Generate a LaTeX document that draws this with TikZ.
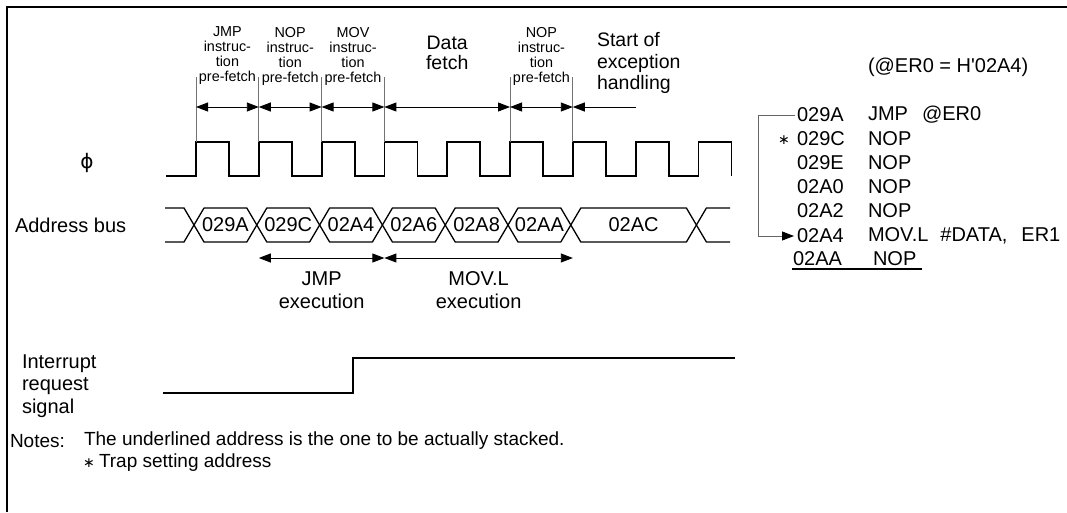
\documentclass[tikz,border=0pt]{standalone}
\usepackage{fontspec}
\setmainfont{Liberation Sans}
\newfontfamily\dejavu{DejaVu Sans}
\usetikzlibrary{arrows.meta}
\begin{document}
\begin{tikzpicture}[x=1pt,y=-1pt,
  every node/.style={inner sep=0pt, outer sep=0pt},
  txt/.style={font=\fontsize{20}{22.5}\selectfont},
  mid/.style={font=\fontsize{19.5}{20.5}\selectfont, align=center},
  sml/.style={font=\fontsize{14.4}{15}\selectfont, align=center},
  clk/.style={line width=1.8pt, line join=miter, line cap=butt},
  bus/.style={line width=1.3pt, line join=round},
  tick/.style={draw=black!55, line width=0.8pt},
  dimarrow/.style={line width=0.9pt, {Triangle[length=12pt,width=9pt]}-{Triangle[length=12pt,width=9pt]}},
  leftarrow/.style={line width=0.9pt, {Triangle[length=12pt,width=9pt]}-},
  bracket/.style={draw=black!60, line width=0.9pt, -{Triangle[length=12pt,width=9pt,color=black]}},
]
\useasboundingbox (0,0) rectangle (1067,512);
% frame
\draw[line width=2.4pt] (7,512) -- (7,7) -- (1067,7);

% ---------- clock ----------
\node[txt] (phi) at (87,163) {\dejavu ϕ};
\draw[clk] (166,176) \foreach \k in {0,...,8} {
  -- ({196+62.8*\k},176) -- ({196+62.8*\k},142) -- ({229+62.8*\k},142) -- ({229+62.8*\k},176) };

% ---------- tick lines and top arrows ----------
\foreach \n/\x in {0/196, 1/258.8, 2/321.6, 3/384.4, 4/510, 5/572.8} {
  \coordinate (tt\n) at (\x,77);
  \coordinate (tb\n) at (\x,142);
  \coordinate (ta\n) at (\x,107);
  \draw[tick] (tt\n) -- (tb\n);
}
\coordinate (taend) at (636,107);
\draw[dimarrow] (ta0) -- (ta1);
\draw[dimarrow] (ta1) -- (ta2);
\draw[dimarrow] (ta2) -- (ta3);
\draw[dimarrow] (ta3) -- (ta4);
\draw[dimarrow] (ta4) -- (ta5);
\draw[leftarrow] (ta5) -- (taend);

\node[sml] (lab1) at (227.4,56) {JMP\\instruc-\\tion\\pre-fetch};
\node[sml] (lab2) at (290.2,56) {NOP\\instruc-\\tion\\pre-fetch};
\node[sml] (lab3) at (353.0,56) {MOV\\instruc-\\tion\\pre-fetch};
\node[mid] (lab4) at (447.2,53) {Data\\fetch};
\node[sml] (lab5) at (541.4,56) {NOP\\instruc-\\tion\\pre-fetch};
\node[font=\fontsize{19.5}{21.5}\selectfont, align=left, anchor=west] (lab6) at (597,63) {Start of\\exception\\handling};

% ---------- address bus ----------
\node[txt, anchor=west] (abus) at (15,225) {Address bus};
\draw[bus] (165,208) -- (184,208) -- (194,225) -- (184,242) -- (165,242);
\foreach \a/\b/\t/\n in {194/256.8/029A/b1, 256.8/319.6/029C/b2, 319.6/382.4/02A4/b3, 382.4/445.2/02A6/b4, 445.2/508/02A8/b5, 508/570.8/02AA/b6, 570.8/696.4/02AC/b7} {
  \draw[bus] (\a,225) -- (\a+10,208) -- (\b-10,208) -- (\b,225) -- (\b-10,242) -- (\a+10,242) -- cycle;
  \node[txt] (\n) at ({(\a+\b)/2},225) {\t};
}
\draw[bus] (730,208) -- (706.4,208) -- (696.4,225) -- (706.4,242) -- (730,242);

% ---------- execution arrows ----------
\coordinate (e0) at (258.8,258);
\coordinate (e1) at (384.4,258);
\coordinate (e2) at (572.8,258);
\draw[dimarrow] (e0) -- (e1);
\draw[dimarrow] (e1) -- (e2);
\node[txt, align=center] (jmpx) at (321.6,290) {JMP\\execution};
\node[txt, align=center] (movx) at (478.6,290) {MOV.L\\execution};

% ---------- interrupt ----------
\node[txt, align=left, anchor=west] (irq) at (22,386) {Interrupt\\request\\signal};
\draw[clk] (163,393) -- (353,393) -- (353,358) -- (735,358);

% ---------- listing ----------
\node[txt, anchor=west] (er0) at (868,67) {(@ER0 = H\textquotesingle02A4)};
\coordinate (bx) at (760,0);
\foreach \n/\y/\a/\m in {r1/115/029A/{JMP\hspace{14pt}@ER0}, r2/139/029C/NOP, r3/163/029E/NOP, r4/187/02A0/NOP, r5/211/02A2/NOP, r6/236/02A4/{MOV.L\hspace{12pt}\#DATA,\hspace{14pt}ER1}} {
  \node[txt, anchor=west] (\n a) at (797,\y) {\a};
  \node[txt, anchor=west] (\n m) at (868,\y) {\m};
}
\node[txt, anchor=west] (r7a) at (793,259) {02AA};
\node[txt, anchor=west] (r7m) at (873,259) {NOP};
\coordinate (ul0) at (792,269);
\coordinate (ul1) at (922,269);
\draw[line width=1.1pt] (ul0) -- (ul1);
\node[font=\fontsize{14}{14}\selectfont, anchor=center] (star1) at (784,140) {\dejavu ∗};
\draw[bracket] ([xshift=-2pt]r1a.west) -- ([xshift=-2pt]r1a.west -| bx) |- ([xshift=-3pt]r6a.west);

% ---------- notes ----------
\node[font=\fontsize{19}{21}\selectfont, anchor=west] (notes) at (10,441) {Notes:};
\node[font=\fontsize{19}{21}\selectfont, anchor=west] (note1) at (84,441) {The underlined address is the one to be actually stacked.};
\node[font=\fontsize{14}{14}\selectfont] (star2) at (89,463) {\dejavu ∗};
\node[font=\fontsize{19}{21}\selectfont, anchor=west] (note2) at (99,463) {Trap setting address};
\end{tikzpicture}
\end{document}
